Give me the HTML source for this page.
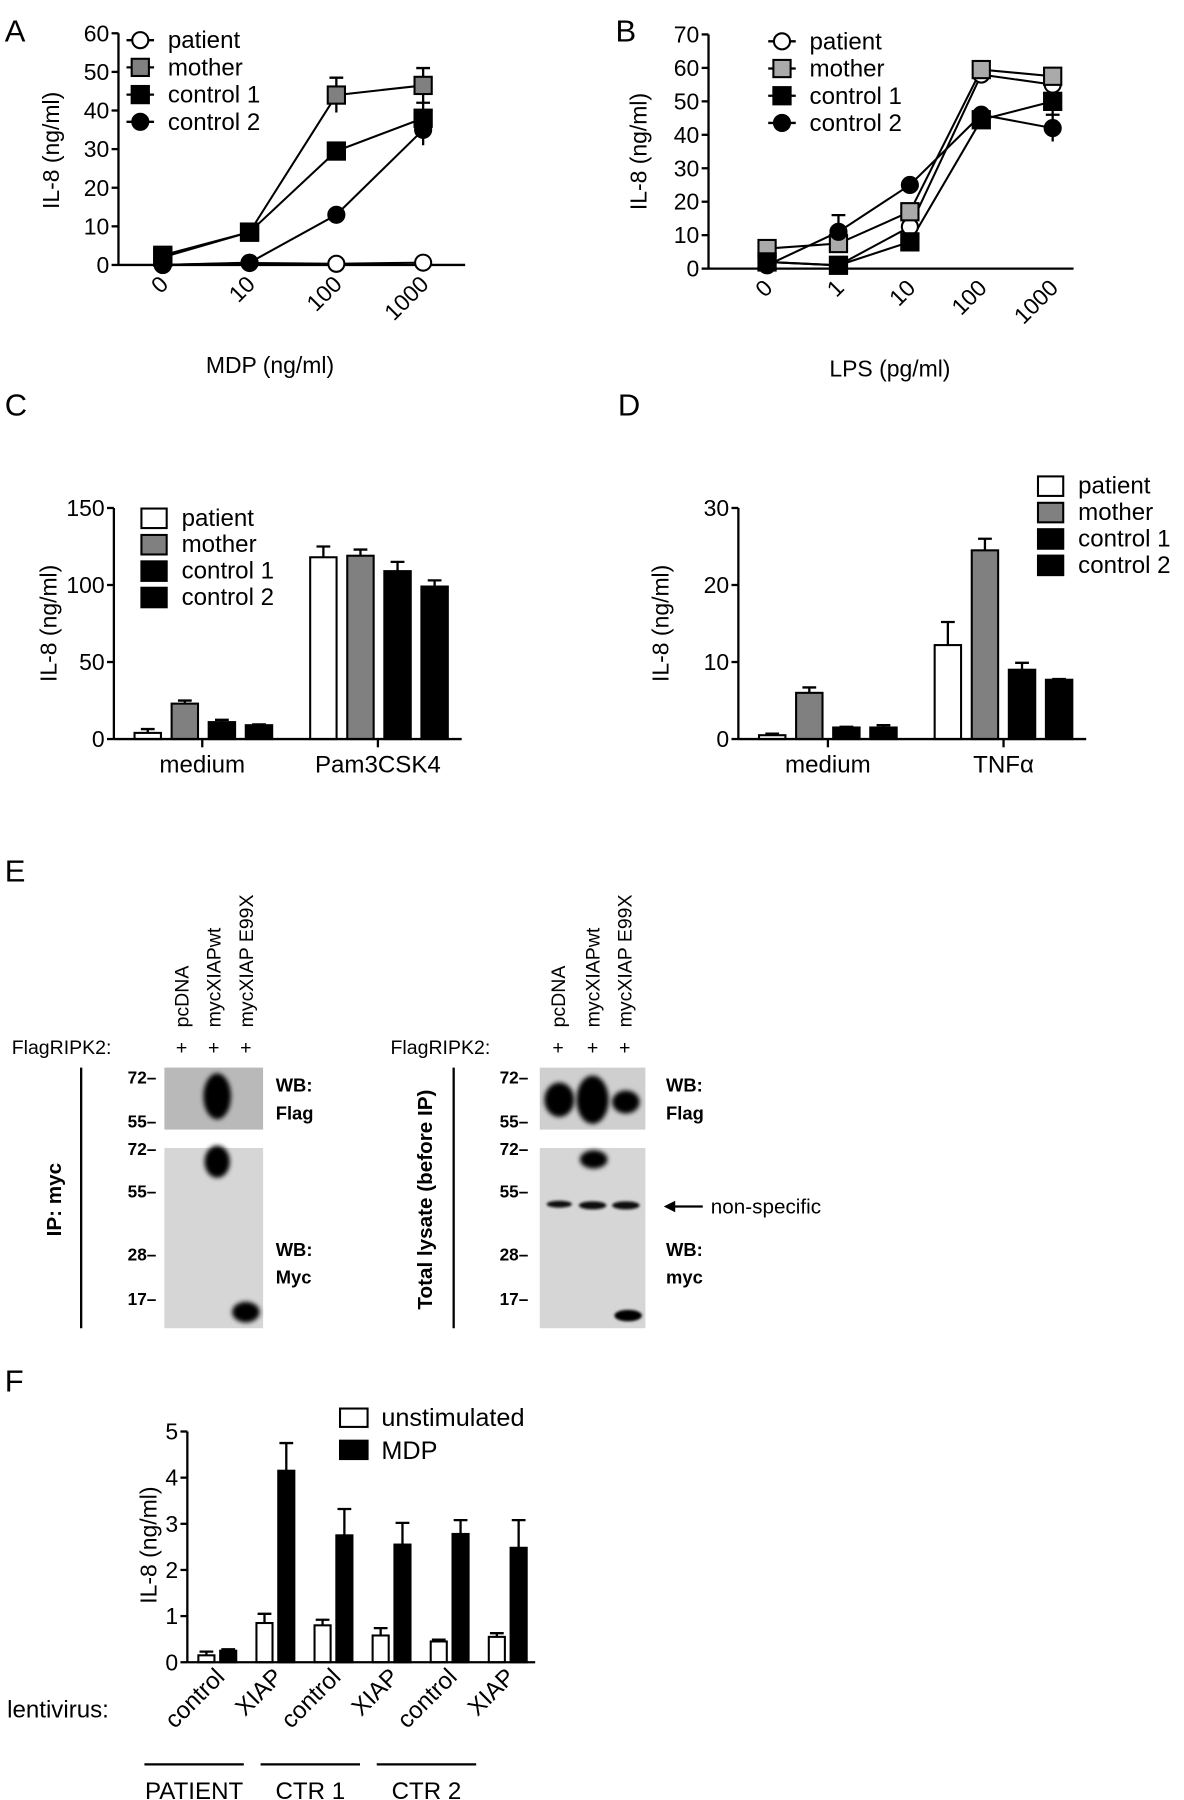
<!DOCTYPE html>
<html><head><meta charset="utf-8"><style>
html,body{margin:0;padding:0;background:#fff;}
svg{display:block;font-family:"Liberation Sans",sans-serif;}
</style></head><body>
<svg id="fig" width="1184" height="1800" viewBox="0 0 1031 1568" xmlns="http://www.w3.org/2000/svg">
<defs>
<filter id="blur2" x="-50%" y="-50%" width="200%" height="200%"><feGaussianBlur stdDeviation="2.2"/></filter>
<filter id="blur1" x="-50%" y="-50%" width="200%" height="200%"><feGaussianBlur stdDeviation="1.2"/></filter>
</defs>
<!-- Panel letters -->
<text x="4" y="36" font-size="27">A</text>
<text x="536" y="36" font-size="27">B</text>
<text x="4" y="362" font-size="27">C</text>
<text x="538" y="362" font-size="27">D</text>
<text x="4" y="768" font-size="27">E</text>
<text x="4" y="1212" font-size="27">F</text>

<!-- Panel E western blots -->
<g font-size="17">
  <text transform="translate(164,895) rotate(-90)">pcDNA</text>
  <text transform="translate(192,895) rotate(-90)">mycXIAPwt</text>
  <text transform="translate(220,895) rotate(-90)">mycXIAP E99X</text>
  <text x="10" y="918">FlagRIPK2:</text>
  <text x="158" y="918" text-anchor="middle">+</text>
  <text x="186" y="918" text-anchor="middle">+</text>
  <text x="214" y="918" text-anchor="middle">+</text>
  <line x1="70.5" y1="930" x2="70.5" y2="1157" stroke="#000" stroke-width="2"/>
  <text transform="translate(53,1045) rotate(-90)" text-anchor="middle" font-weight="bold" font-size="18">IP: myc</text>
  <rect x="143" y="930" width="86" height="54" fill="#b9b9b9"/>
  <ellipse cx="189" cy="955" rx="12" ry="20" fill="#000" filter="url(#blur2)"/>
  <rect x="143" y="1000" width="86" height="157" fill="#d6d6d6"/>
  <ellipse cx="189" cy="1012" rx="11" ry="14" fill="#000" filter="url(#blur2)"/>
  <ellipse cx="214" cy="1143" rx="12" ry="9" fill="#000" filter="url(#blur2)"/>
  <g font-weight="bold" font-size="15" text-anchor="end">
    <text x="136" y="944">72–</text><text x="136" y="982">55–</text>
    <text x="136" y="1006">72–</text><text x="136" y="1043">55–</text>
    <text x="136" y="1098">28–</text><text x="136" y="1137">17–</text>
  </g>
  <g font-weight="bold" font-size="16">
    <text x="240" y="951">WB:</text><text x="240" y="975">Flag</text>
    <text x="240" y="1094">WB:</text><text x="240" y="1118">Myc</text>
  </g>

  <text transform="translate(492,895) rotate(-90)">pcDNA</text>
  <text transform="translate(522,895) rotate(-90)">mycXIAPwt</text>
  <text transform="translate(550,895) rotate(-90)">mycXIAP E99X</text>
  <text x="340" y="918">FlagRIPK2:</text>
  <text x="486" y="918" text-anchor="middle">+</text>
  <text x="516" y="918" text-anchor="middle">+</text>
  <text x="544" y="918" text-anchor="middle">+</text>
  <line x1="395" y1="930" x2="395" y2="1157" stroke="#000" stroke-width="2"/>
  <text transform="translate(376,1045) rotate(-90)" text-anchor="middle" font-weight="bold" font-size="18">Total lysate (before IP)</text>
  <rect x="470" y="930" width="92" height="54" fill="#cfcfcf"/>
  <ellipse cx="487" cy="958" rx="13" ry="15" fill="#000" filter="url(#blur2)"/>
  <ellipse cx="516" cy="958" rx="14" ry="21" fill="#000" filter="url(#blur2)"/>
  <ellipse cx="545" cy="960" rx="12" ry="10" fill="#000" filter="url(#blur2)"/>
  <rect x="470" y="1000" width="92" height="157" fill="#d6d6d6"/>
  <ellipse cx="517" cy="1010" rx="12" ry="8" fill="#000" filter="url(#blur2)"/>
  <ellipse cx="487" cy="1049" rx="11" ry="3" fill="#111" filter="url(#blur1)"/>
  <ellipse cx="516" cy="1050" rx="12" ry="3.5" fill="#111" filter="url(#blur1)"/>
  <ellipse cx="545" cy="1050" rx="12" ry="3.5" fill="#111" filter="url(#blur1)"/>
  <ellipse cx="547" cy="1146" rx="12" ry="5" fill="#000" filter="url(#blur1)"/>
  <g font-weight="bold" font-size="15" text-anchor="end">
    <text x="460" y="944">72–</text><text x="460" y="982">55–</text>
    <text x="460" y="1006">72–</text><text x="460" y="1043">55–</text>
    <text x="460" y="1098">28–</text><text x="460" y="1137">17–</text>
  </g>
  <g font-weight="bold" font-size="16">
    <text x="580" y="951">WB:</text><text x="580" y="975">Flag</text>
    <text x="580" y="1094">WB:</text><text x="580" y="1118">myc</text>
  </g>
  <line x1="584" y1="1051" x2="612" y2="1051" stroke="#000" stroke-width="2"/>
  <polygon points="578,1051 588,1046 588,1056" fill="#000"/>
  <text x="619" y="1057" font-size="18">non-specific</text>
</g>
<g id="charts"></g>
</svg>
<script>
// ---------- Panel A data ----------
const catsA = ["0", "10", "100", "1000"];
const ticksA = [0, 10, 20, 30, 40, 50, 60];
const patientA = [0, 0.5, 0.3, 0.6];
const motherA = [2.5, 8.5, 44, 46.5];
const control1A = [2, 8.5, 29.5, 38];
const control2A = [0, 0.6, 13, 35];
const motherErrA = [0.5, 1, 4.5, 4.5];
const control1ErrA = [0.5, 2, 2, 4];
const control2ErrA = [0.3, 0.3, 0.5, 4];
// ---------- Panel B data ----------
const catsB = ["0", "1", "10", "100", "1000"];
const ticksB = [0, 10, 20, 30, 40, 50, 60, 70];
const patientB = [2, 1, 12.5, 58, 55];
const motherB = [6, 7.5, 17, 59.5, 57.5];
const control1B = [2, 1, 8, 44.5, 50];
const control2B = [1, 11, 25, 46, 42];
const control1ErrB = [0.5, 0.5, 1, 1, 4];
const control2ErrB = [0.5, 5, 1, 1, 4];
// ---------- Panel C data ----------
const groupsC = ["medium", "Pam3CSK4"];
const ticksC = [0, 50, 100, 150];
const mediumC = [4, 23, 11, 9];
const pamC = [118, 119, 109, 99];
const mediumErrC = [2.5, 2, 1.5, 0.5];
const pamErrC = [7, 4, 6, 4];
// ---------- Panel D data ----------
const groupsD = ["medium", "TNFα"];
const ticksD = [0, 10, 20, 30];
const mediumD = [0.5, 6, 1.5, 1.5];
const tnfD = [12.2, 24.5, 9, 7.7];
const mediumErrD = [0.2, 0.7, 0.1, 0.3];
const tnfErrD = [3, 1.5, 0.9, 0.1];
// ---------- Panel F data ----------
const catsF = ["control", "XIAP", "control", "XIAP", "control", "XIAP"];
const ticksF = [0, 1, 2, 3, 4, 5];
const unstimF = [0.15, 0.85, 0.8, 0.58, 0.45, 0.55];
const mdpF = [0.25, 4.15, 2.75, 2.55, 2.78, 2.48];
const unstimErrF = [0.08, 0.2, 0.12, 0.16, 0.04, 0.08];
const mdpErrF = [0.03, 0.6, 0.57, 0.47, 0.3, 0.6];
const seriesNames = ["patient", "mother", "control 1", "control 2"];

const NS = "http://www.w3.org/2000/svg";
const root = document.getElementById("charts");
function mk(tag, attrs, parent) {
  const e = document.createElementNS(NS, tag);
  for (const k in attrs) e.setAttribute(k, attrs[k]);
  (parent || root).appendChild(e);
  return e;
}

// ---------- axis helpers ----------
function yAxis(g, x, yFn, ticks, y0, y1, name) {
  const ax = mk("line", {x1: x, y1: y0, x2: x, y2: y1, stroke: "#000", "stroke-width": 2}, g);
  
  
  ticks.forEach(t => {
    const tk = mk("line", {x1: x - 6, y1: yFn(t), x2: x, y2: yFn(t), stroke: "#000", "stroke-width": 2}, g);
    
    
    const tl = mk("text", {x: x - 8, y: yFn(t) + 7, "text-anchor": "end", "font-size": 20}, g);
    tl.textContent = t;
    
    
  });
}
function hline(g, x0, x1, y, name) {
  const l = mk("line", {x1: x0, y1: y, x2: x1, y2: y, stroke: "#000", "stroke-width": 2}, g);
  
  
}
function label(g, txt, x, y, size, extra, name) {
  const t = mk("text", Object.assign({x: x, y: y, "font-size": size}, extra || {}), g);
  t.textContent = txt;
  
  
  return t;
}
function marker(g, kind, fill, cx, cy, name) {
  let m;
  if (kind === "circle") m = mk("circle", {cx: cx, cy: cy, r: 7, fill: fill, stroke: "#000", "stroke-width": 1.8}, g);
  else m = mk("rect", {x: cx - 7.5, y: cy - 7.5, width: 15, height: 15, fill: fill, stroke: "#000", "stroke-width": 1.8}, g);
  
  
  return m;
}
function errBar(g, x, yTop, yBot, name) {
  const e = mk("path", {d: `M${x},${yBot}V${yTop}M${x - 6},${yTop}H${x + 6}`, stroke: "#000", "stroke-width": 2, fill: "none"}, g);
  
  
}

// ---------- line chart ----------
function lineChart(cfg) {
  const g = mk("g", {});
  
  
  yAxis(g, cfg.ax, cfg.y, cfg.ticks, cfg.y(cfg.ticks[cfg.ticks.length - 1]), cfg.y(0), cfg.name);
  hline(g, cfg.ax, cfg.axEnd, cfg.y(0), cfg.name + '-x-axis');
  cfg.cats.forEach((c, i) => {
    const tx = cfg.x(i) + 6, ty = cfg.y(0) + 18;
    const t = mk("text", {x: tx, y: ty, "text-anchor": "end", "font-size": 20, transform: `rotate(-45 ${tx} ${ty})`}, g);
    t.textContent = c;
    
    
  });
  cfg.series.forEach(s => {
    if (s.err) s.vals.forEach((v, i) => {
      if (s.err[i] > 0.6) errBar(g, cfg.x(i), cfg.y(v + s.err[i]), cfg.y(v - s.err[i]), cfg.name + '-error-bar');
    });
    const pts = s.vals.map((v, i) => cfg.x(i) + "," + cfg.y(v)).join(" ");
    const pl = mk("polyline", {points: pts, fill: "none", stroke: "#000", "stroke-width": 1.8}, g);
    
    
  });
  cfg.series.forEach(s => {
    s.vals.forEach((v, i) => marker(g, s.kind, s.fill, cfg.x(i), cfg.y(v), cfg.name + '-point-' + s.key));
  });
  cfg.series.forEach((s, k) => {
    const ly = cfg.legY + k * 23.7;
    hline(g, cfg.legX - 12, cfg.legX + 12, ly, cfg.name + '-legend-line');
    marker(g, s.kind, s.fill, cfg.legX, ly, cfg.name + '-legend-marker');
    label(g, seriesNames[k], cfg.legX + 24, ly + 7, 21, {}, cfg.name + '-legend-label');
  });
  label(g, cfg.xTitle, cfg.xTitleX, cfg.xTitleY, 20, {"text-anchor": "middle"}, cfg.name + '-x-axis-title');
  label(g, "IL-8 (ng/ml)", 0, 0, 20, {"text-anchor": "middle", transform: `translate(${cfg.yTitleX},${cfg.yTitleY}) rotate(-90)`}, cfg.name + '-y-axis-title');
}
const xA = i => 141.6 + i * 75.6;
const yA = v => 230.8 - v * (201.8 / 60);
lineChart({name: "chart-a", ax: 103, axEnd: 405, x: xA, y: yA, ticks: ticksA, cats: catsA,
  series: [
    {key: "patient", vals: patientA, kind: "circle", fill: "#fff"},
    {key: "mother", vals: motherA, err: motherErrA, kind: "square", fill: "#808080"},
    {key: "control1", vals: control1A, err: control1ErrA, kind: "square", fill: "#000"},
    {key: "control2", vals: control2A, err: control2ErrA, kind: "circle", fill: "#000"}
  ], legX: 122, legY: 35, xTitle: "MDP (ng/ml)", xTitleX: 235, xTitleY: 325, yTitleX: 51, yTitleY: 131});
const xB = i => 668 + i * 62.2;
const yB = v => 234 - v * (204 / 70);
lineChart({name: "chart-b", ax: 617, axEnd: 935, x: xB, y: yB, ticks: ticksB, cats: catsB,
  series: [
    {key: "patient", vals: patientB, kind: "circle", fill: "#fff"},
    {key: "mother", vals: motherB, kind: "square", fill: "#aaaaaa"},
    {key: "control1", vals: control1B, err: control1ErrB, kind: "square", fill: "#000"},
    {key: "control2", vals: control2B, err: control2ErrB, kind: "circle", fill: "#000"}
  ], legX: 681, legY: 36, xTitle: "LPS (pg/ml)", xTitleX: 775, xTitleY: 328, yTitleX: 563, yTitleY: 132});

// ---------- bar charts ----------
const fillsCD = ["#fff", "#808080", "#000", "#000"];
function barChart(cfg) {
  const g = mk("g", {});
  
  
  yAxis(g, cfg.ax, cfg.y, cfg.ticks, cfg.y(cfg.ticks[cfg.ticks.length - 1]), cfg.y(0), cfg.name);
  cfg.groups.forEach((gv, gi) => {
    gv.vals.forEach((v, k) => {
      const x = cfg.x(gi, k);
      const e = gv.err[k];
      errBar(g, x + cfg.bw / 2, cfg.y(v + e), cfg.y(v), cfg.name + '-error-bar');
      const r = mk("rect", {x: x, y: cfg.y(v), width: cfg.bw, height: cfg.y(0) - cfg.y(v), fill: cfg.fills[k], stroke: "#000", "stroke-width": 1.8}, g);
      
      
    });
  });
  hline(g, cfg.ax, cfg.axEnd, cfg.y(0), cfg.name + '-x-axis');
}
const yC = v => 643.8 - v * (201.3 / 150);
const xC = (g, k) => 117 + g * 153 + k * 32.3;
barChart({name: "chart-c", ax: 99, axEnd: 402, y: yC, x: xC, bw: 23, ticks: ticksC, fills: fillsCD,
  groups: [{label: groupsC[0], vals: mediumC, err: mediumErrC}, {label: groupsC[1], vals: pamC, err: pamErrC}]});
const yD = v => 643.8 - v * (201.3 / 30);
const xD = (g, k) => 661 + g * 153 + k * 32.3;
barChart({name: "chart-d", ax: 643, axEnd: 946, y: yD, x: xD, bw: 23, ticks: ticksD, fills: fillsCD,
  groups: [{label: "medium", vals: mediumD, err: mediumErrD}, {label: "tnf", vals: tnfD, err: tnfErrD}]});

function groupLabels(cfg) {
  const g = root;
  cfg.labels.forEach((l, i) => {
    const cx = cfg.cx(i);
    const tk = mk("line", {x1: cx, y1: 644, x2: cx, y2: 651, stroke: "#000", "stroke-width": 2}, g);
    
    
    label(g, l, cx, 673, 21, {"text-anchor": "middle"}, cfg.name + '-x-tick-label');
  });
  label(g, "IL-8 (ng/ml)", 0, 0, 20, {"text-anchor": "middle", transform: `translate(${cfg.titleX},543) rotate(-90)`}, cfg.name + '-y-axis-title');
  seriesNames.forEach((s, k) => {
    const ly = cfg.legY + k * 23;
    const b = mk("rect", {x: cfg.legX, y: ly - 8, width: 22, height: 17, fill: fillsCD[k], stroke: "#000", "stroke-width": 1.8}, g);
    
    
    label(g, s, cfg.legX + 35, ly + 7, 21, {}, cfg.name + '-legend-label');
  });
}
groupLabels({name: "chart-c", labels: groupsC, cx: i => xC(i, 0) + 59, titleX: 49, legX: 123, legY: 451});
groupLabels({name: "chart-d", labels: groupsD, cx: i => xD(i, 0) + 60, titleX: 582, legX: 904, legY: 423});

// ---------- Panel F ----------
const yF = v => 1448 - v * (201 / 5);
const xF = (g, s) => 172.6 + g * 50.6 + s * 19;
(function () {
  const g = mk("g", {});
  
  
  yAxis(g, 163, yF, ticksF, yF(5), yF(0), 'chart-f');
  [unstimF, mdpF].forEach((ser, s) => {
    const errs = s === 0 ? unstimErrF : mdpErrF;
    ser.forEach((v, i) => {
      const x = xF(i, s);
      errBar(g, x + 7, yF(v + errs[i]), yF(v), 'chart-f-error-bar');
      const r = mk("rect", {x: x, y: yF(v), width: 14, height: yF(0) - yF(v), fill: s === 0 ? "#fff" : "#000", stroke: "#000", "stroke-width": 1.8}, g);
      
      
    });
  });
  hline(g, 163, 466, yF(0), 'chart-f-x-axis');
  catsF.forEach((c, i) => {
    const tx = xF(i, 0) + 24, ty = 1462;
    const t = mk("text", {x: tx, y: ty, "text-anchor": "end", "font-size": 21, transform: `rotate(-45 ${tx} ${ty})`}, g);
    t.textContent = c;
    
    
  });
  label(g, "lentivirus:", 6, 1496, 21, {}, 'lentivirus-label');
  label(g, "IL-8 (ng/ml)", 0, 0, 20, {"text-anchor": "middle", transform: "translate(136,1346) rotate(-90)"}, 'chart-f-y-axis-title');
  const grp = ["PATIENT", "CTR 1", "CTR 2"];
  grp.forEach((n, k) => {
    const x0 = xF(k * 2, 0) - 46 + 0, x1 = xF(k * 2 + 1, 1) - 28;
    hline(g, xF(k * 2, 0) - 47, xF(k * 2 + 1, 1) - 30, 1537, 'chart-f-group-bracket');
    label(g, n, (xF(k * 2, 0) - 47 + xF(k * 2 + 1, 1) - 30) / 2, 1567, 21, {"text-anchor": "middle"}, 'chart-f-group-label');
  });
  const s1 = mk("rect", {x: 296, y: 1227, width: 24, height: 16, fill: "#fff", stroke: "#000", "stroke-width": 1.8}, g);
  
  
  label(g, "unstimulated", 332, 1242, 22, {}, 'chart-f-legend-label');
  const s2 = mk("rect", {x: 296, y: 1255, width: 24, height: 16, fill: "#000", stroke: "#000", "stroke-width": 1.8}, g);
  
  
  label(g, "MDP", 332, 1271, 22, {}, 'chart-f-legend-label');
})();
</script>
</body></html>
